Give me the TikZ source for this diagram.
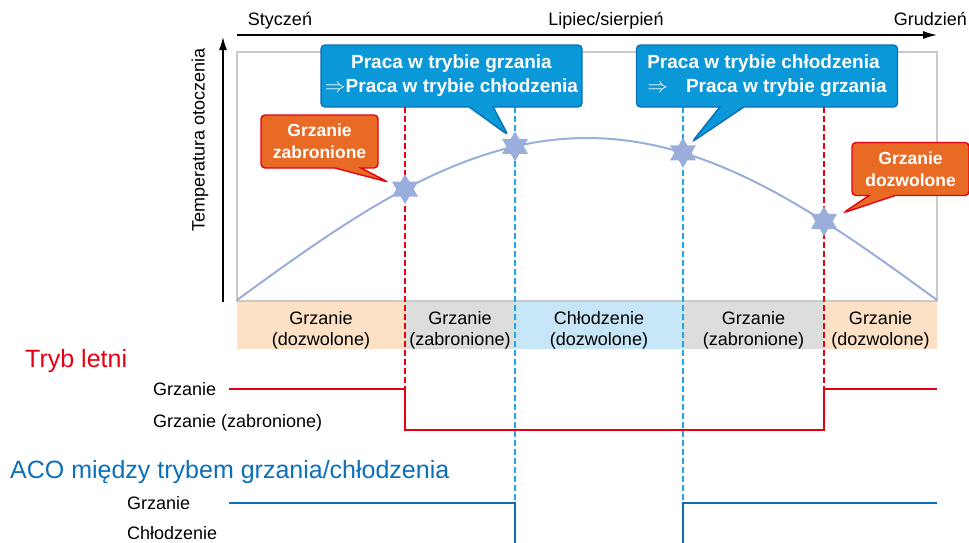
\documentclass[tikz,border=0pt]{standalone}
\usepackage{fontspec}
\setmainfont{Liberation Sans}
\usetikzlibrary{arrows.meta, positioning, shapes.geometric, shapes.callouts}
\definecolor{summerRed}{HTML}{E60012}
\definecolor{acoBlue}{HTML}{0B6FBA}
\definecolor{dashBlue}{HTML}{1EA5E6}
\definecolor{calloutBlue}{HTML}{0A98D8}
\definecolor{calloutEdge}{HTML}{0B70B5}
\definecolor{warnOrange}{HTML}{E86A24}
\definecolor{curveBlue}{HTML}{9AAEDB}
\definecolor{bandPeach}{HTML}{FCE1C5}
\definecolor{bandGray}{HTML}{DCDDDD}
\definecolor{bandBlue}{HTML}{C6E6F8}
\definecolor{frameGray}{HTML}{CACACA}
\newcommand{\bigimp}{\smash{\fontsize{22}{22}\selectfont$\Rightarrow$}}

\begin{document}
\begin{tikzpicture}[x=1pt, y=-1pt,
    txt/.style={font=\fontsize{18}{21}\selectfont, inner sep=0pt},
    bigtxt/.style={font=\fontsize{25}{28}\selectfont, inner sep=0pt},
    bandtxt/.style={txt, align=center},
    callout/.style={rectangle callout, rounded corners=4pt, line width=1.4pt,
                    inner sep=0pt, text=white},
    bluecall/.style={callout, fill=calloutBlue, draw=calloutEdge,
                     font=\bfseries\fontsize{19}{24}\selectfont,
                     minimum width=261pt, minimum height=62pt, callout pointer width=24pt},
    orangecall/.style={callout, fill=warnOrange, draw=summerRed, align=center,
                       font=\bfseries\fontsize{17.5}{22}\selectfont,
                       minimum width=117pt, minimum height=53pt, callout pointer width=26pt},
    dashred/.style={summerRed, line width=1.4pt, dash pattern=on 6pt off 3pt},
    dashblue/.style={dashBlue, line width=1.4pt, dash pattern=on 6pt off 3pt},
    redline/.style={summerRed, line width=2pt},
    blueline/.style={acoBlue, line width=2.4pt},
  ]
    \useasboundingbox (0,0) rectangle (969,542);

    % ─── Axes ───
    \draw[line width=1.3pt, -{Latex[length=14pt, width=8pt]}] (237,35) -- (937,35);
    \draw[line width=1.3pt, -{Latex[length=13pt, width=8pt]}] (223,302) -- (223,37);
    \node[txt, anchor=base] (jan) at (280,25) {Styczeń};
    \node[txt, anchor=base] (jul) at (606,25) {Lipiec/sierpień};
    \node[txt, anchor=base east] (dec) at (967,25) {Grudzień};
    \node[txt, rotate=90] (temp) at (200,140) {Temperatura otoczenia};

    % ─── Plot frame and mode band ───
    \draw[frameGray, line width=1.2pt] (237,52) rectangle (937,301);
    \foreach \xa/\xb/\col/\modename/\modestate [count=\k] in
      {237/405/bandPeach/Grzanie/dozwolone, 405/515/bandGray/Grzanie/zabronione,
       515/683/bandBlue/Chłodzenie/dozwolone, 683/824/bandGray/Grzanie/zabronione,
       824/937/bandPeach/Grzanie/dozwolone}{
      \fill[\col] (\xa,302) rectangle (\xb,349);
      \node[bandtxt] (band\k) at ({(\xa+\xb)/2},330) {\modename\\(\modestate)};
    }

    % switch points
    \coordinate (t1) at (405,107);
    \coordinate (t2) at (515,107);
    \coordinate (t3) at (683,107);
    \coordinate (t4) at (824,107);
    \coordinate (redHi) at (229,389);
    \coordinate (redLo) at (229,430);
    \coordinate (bluHi) at (229,503);
    \coordinate (bluLo) at (229,546);

    % ─── Dashed markers ───
    \draw[dashred] (t1) -- (t1 |- redHi);
    \draw[dashred] (t4) -- (t4 |- redHi);
    \draw[dashblue] (t2) -- (t2 |- bluHi);
    \draw[dashblue] (t3) -- (t3 |- bluHi);

    % ─── Temperature curve ───
    \draw[curveBlue, line width=2pt] plot[domain=237:937, samples=120]
      (\x, {300-162*sin((\x-237)/700*180)});
    \foreach \xs [count=\k] in {405,515,683,824}{
      \coordinate (s\k) at (\xs, {300-162*sin((\xs-237)/700*180)});
      \fill[curveBlue] (s\k) +(0,-15) -- +(13,7.5) -- +(-13,7.5) -- cycle
                       (s\k) +(0,15) -- +(-13,-7.5) -- +(13,-7.5) -- cycle;
    }

    % ─── Callouts ───
    \node[bluecall, align=center, callout absolute pointer={(508,135)}] (c1) at (451.5,76)
      {Praca w trybie grzania\\\bigimp Praca w trybie chłodzenia};
    \node[bluecall, align=left, callout absolute pointer={(692,142)}] (c2) at (767,76)
      {Praca w trybie chłodzenia\\\bigimp\hspace{18pt}Praca w trybie grzania};
    \node[orangecall, callout absolute pointer={(388,182)}] (c3) at (319.5,141.5)
      {Grzanie\\zabronione};
    \node[orangecall, callout absolute pointer={(843,213)}] (c4) at (910.5,169)
      {Grzanie\\dozwolone};

    % ─── Tryb letni ───
    \node[bigtxt, text=summerRed, anchor=base west] (summer) at (25,367) {Tryb letni};
    \node[txt, anchor=base west] (sHeat) at (153,395) {Grzanie};
    \node[txt, anchor=base west] (sOff) at (153,427) {Grzanie (zabronione)};
    \draw[redline] (redHi) -- (t1 |- redHi) -- (t1 |- redLo) -- (t4 |- redLo)
      -- (t4 |- redHi) -- (937,389);

    % ─── ACO ───
    \node[bigtxt, text=acoBlue, anchor=base west] (aco) at (10,478)
      {ACO między trybem grzania/chłodzenia};
    \node[txt, anchor=base west] (aHeat) at (127,509) {Grzanie};
    \node[txt, anchor=base west] (aCool) at (127,539) {Chłodzenie};
    \draw[blueline] (bluHi) -- (t2 |- bluHi) -- (t2 |- bluLo);
    \draw[blueline] (t3 |- bluLo) -- (t3 |- bluHi) -- (937,503);
\end{tikzpicture}
\end{document}
